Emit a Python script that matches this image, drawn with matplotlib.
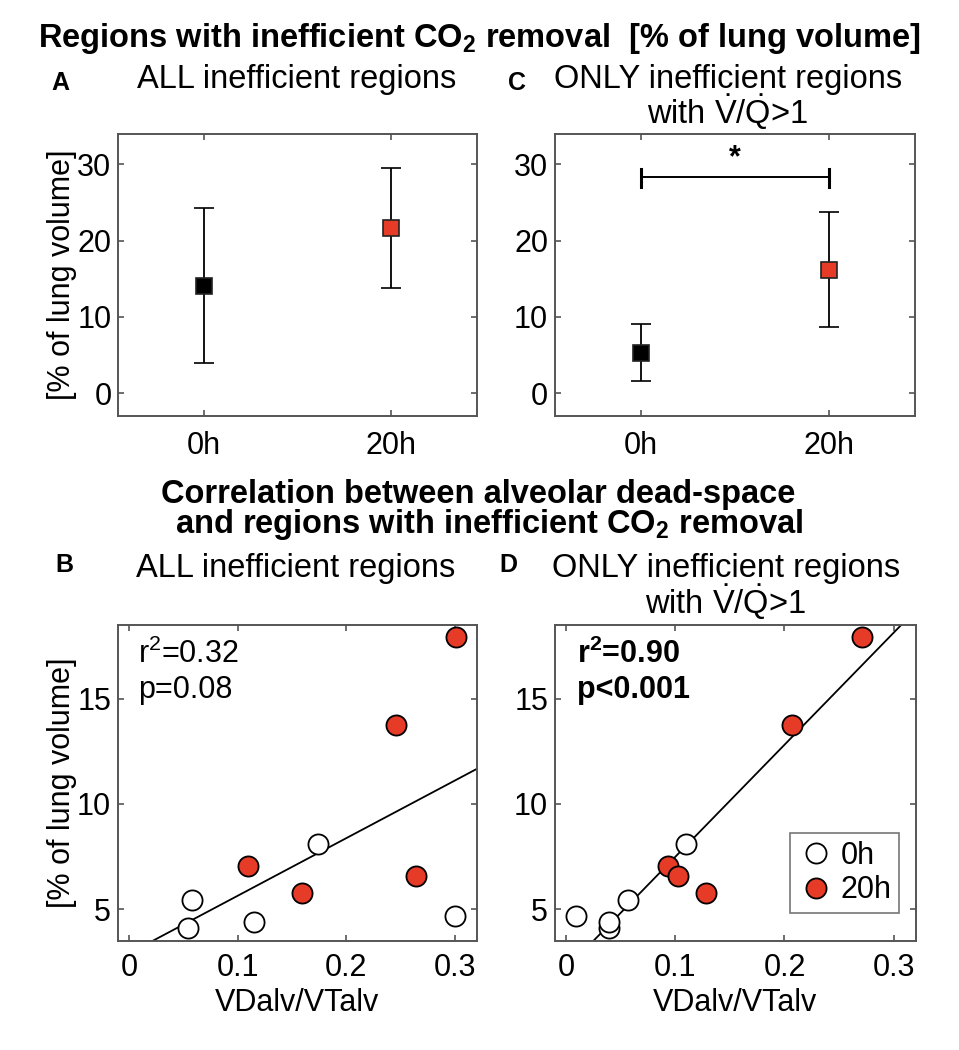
import numpy as np
import matplotlib
matplotlib.use("Agg")
import matplotlib.pyplot as plt
from matplotlib.lines import Line2D

plt.rcParams['font.family'] = ['Liberation Sans', 'DejaVu Sans']
plt.rcParams['mathtext.fontset'] = 'custom'
plt.rcParams['mathtext.rm'] = 'Liberation Sans'
plt.rcParams['mathtext.it'] = 'Liberation Sans:italic'
plt.rcParams['mathtext.bf'] = 'Liberation Sans:bold'

RED = '#E63B26'
FRAME = '#555555'
FS = 22

# top panels: mean +- sd
time_labels = ['0h', '20h']
all_mean = [14.1, 21.7]
all_sd = [10.15, 7.85]
vq_mean = [5.3, 16.2]
vq_sd = [3.72, 7.55]

# bottom panels: scatter
pct_0h = [8.1, 5.41, 4.08, 4.40, 4.67]
pct_20h = [17.94, 13.73, 7.06, 5.76, 6.59]
vd_all_0h = [0.174, 0.058, 0.054, 0.115, 0.300]
vd_all_20h = [0.301, 0.246, 0.110, 0.159, 0.264]
vd_vq_0h = [0.1095, 0.0567, 0.039, 0.039, 0.009]
vd_vq_20h = [0.271, 0.207, 0.093, 0.128, 0.103]


def style_axes(ax):
    for s in ax.spines.values():
        s.set_color(FRAME)
        s.set_linewidth(1.4)
    ax.tick_params(direction='in', top=True, right=True, length=4,
                   width=1.2, color=FRAME, labelsize=FS)
    ax.tick_params(axis='y', pad=5)


def mean_panel(ax, means, sds):
    xs = [1, 2]
    colors = ['black', RED]
    for x, m, s, c in zip(xs, means, sds, colors):
        ax.errorbar(x, m, yerr=s, fmt='s', color='black', ecolor='black',
                    elinewidth=1.3, capsize=7, capthick=1.3,
                    markersize=11, markerfacecolor=c, markeredgecolor='#222222',
                    markeredgewidth=1.2)
    ax.set_xlim(0.542, 2.458)
    ax.set_ylim(-3, 34)
    ax.set_xticks(xs)
    ax.set_xticklabels(time_labels)
    ax.set_yticks([0, 10, 20, 30])
    style_axes(ax)
    ax.tick_params(axis='x', pad=11)


def scatter_panel(ax, x0, x1):
    xall = np.array(x0 + x1)
    yall = np.array(pct_0h + pct_20h)
    a, b = np.polyfit(xall, yall, 1)
    xl = np.array([-0.01, 0.32])
    ax.plot(xl, a * xl + b, color='black', lw=1.3, zorder=2)
    ax.plot(x0, pct_0h, 'o', markersize=14.5, markerfacecolor='white',
            markeredgecolor='black', markeredgewidth=1.3, zorder=3)
    ax.plot(x1, pct_20h, 'o', markersize=14.5, markerfacecolor=RED,
            markeredgecolor='black', markeredgewidth=1.3, zorder=3)
    ax.set_xlim(-0.01, 0.32)
    ax.set_ylim(3.5, 18.5)
    ax.set_xticks([0, 0.1, 0.2, 0.3])
    ax.set_xticklabels(['0', '0.1', '0.2', '0.3'])
    ax.set_yticks([5, 10, 15])
    style_axes(ax)
    ax.tick_params(axis='x', pad=9)
    ax.set_xlabel('VDalv/VTalv', fontsize=FS)
    ax.xaxis.set_label_coords(0.5, -0.15)


fig = plt.figure(figsize=(9.59, 10.5), dpi=100)
axA = fig.add_axes([0.1234, 0.6038, 0.3737, 0.2686])
axC = fig.add_axes([0.5787, 0.6038, 0.3754, 0.2686])
axB = fig.add_axes([0.1230, 0.1041, 0.3743, 0.3007])
axD = fig.add_axes([0.5787, 0.1041, 0.3761, 0.3007])

mean_panel(axA, all_mean, all_sd)
mean_panel(axC, vq_mean, vq_sd)
axA.set_ylabel('[% of lung volume]', fontsize=FS)
axA.yaxis.set_label_coords(-0.115, 0.5)

# significance bracket
axC.plot([1, 2], [28.3, 28.3], color='black', lw=1.4)
axC.plot([1, 1], [27.1, 29.4], color='black', lw=2.2)
axC.plot([2, 2], [27.1, 29.4], color='black', lw=2.2)
axC.text(1.5, 28.9, '*', ha='center', va='bottom', fontsize=22, fontweight='bold')

scatter_panel(axB, vd_all_0h, vd_all_20h)
scatter_panel(axD, vd_vq_0h, vd_vq_20h)
axB.set_ylabel('[% of lung volume]', fontsize=FS)
axB.yaxis.set_label_coords(-0.115, 0.5)

axB.text(0.055, 0.88, r'r$^2$=0.32', transform=axB.transAxes,
         fontsize=FS, va='baseline')
axB.text(0.055, 0.77, 'p=0.08', transform=axB.transAxes, fontsize=FS, va='baseline')
axD.text(0.06, 0.88, r'r$^\mathbf{2}$=0.90', transform=axD.transAxes,
         fontsize=FS, fontweight='bold', va='baseline')
axD.text(0.06, 0.77, 'p<0.001', transform=axD.transAxes, fontsize=FS,
         fontweight='bold', va='baseline')

handles = [
    Line2D([], [], ls='none', marker='o', markersize=14.5, markerfacecolor='white',
           markeredgecolor='black', markeredgewidth=1.3),
    Line2D([], [], ls='none', marker='o', markersize=14.5, markerfacecolor=RED,
           markeredgecolor='black', markeredgewidth=1.3),
]
leg = axD.legend(handles, time_labels, loc='lower right', bbox_to_anchor=(0.954, 0.088),
                 fontsize=FS, frameon=True, fancybox=False, labelspacing=0.15,
                 borderpad=0.25, handletextpad=0.2, handlelength=1.2, borderaxespad=0)
leg.get_frame().set_edgecolor(FRAME)
leg.get_frame().set_linewidth(1.2)

# figure texts
def fy(px):
    return 1 - px / 1050.0

def fx(px):
    return px / 959.0

fig.text(0.5, fy(47), r'Regions with inefficient CO$_\mathbf{2}$ removal  [% of lung volume]',
         ha='center', va='baseline', fontsize=23.5, fontweight='bold')
fig.text(fx(60), fy(90), 'A', ha='center', va='baseline', fontsize=18, fontweight='bold')
fig.text(fx(297), fy(88), 'ALL inefficient regions', ha='center', va='baseline', fontsize=23.5)
fig.text(fx(517), fy(90), 'C', ha='center', va='baseline', fontsize=18, fontweight='bold')
fig.text(fx(728), fy(88), 'ONLY inefficient regions', ha='center', va='baseline', fontsize=23.5)
fig.text(fx(728), fy(124), r'with $\mathrm{\dot{V}/\dot{Q}}$>1', ha='center', va='baseline',
         fontsize=23.5)

fig.text(fx(478), fy(503), 'Correlation between alveolar dead-space', ha='center',
         va='baseline', fontsize=23.5, fontweight='bold')
fig.text(fx(489), fy(533), r'and regions with inefficient CO$_\mathbf{2}$ removal', ha='center',
         va='baseline', fontsize=23.5, fontweight='bold')
fig.text(fx(64), fy(572), 'B', ha='center', va='baseline', fontsize=18, fontweight='bold')
fig.text(fx(296), fy(577), 'ALL inefficient regions', ha='center', va='baseline', fontsize=23.5)
fig.text(fx(508), fy(572), 'D', ha='center', va='baseline', fontsize=18, fontweight='bold')
fig.text(fx(726), fy(577), 'ONLY inefficient regions', ha='center', va='baseline', fontsize=23.5)
fig.text(fx(726), fy(614), r'with $\mathrm{\dot{V}/\dot{Q}}$>1', ha='center', va='baseline',
         fontsize=23.5)

fig.savefig('out.png', dpi=100)
